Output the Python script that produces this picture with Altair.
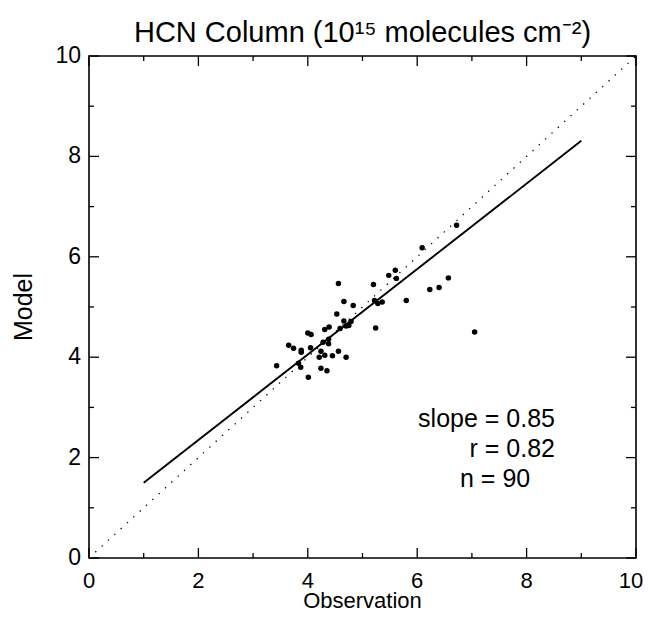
import altair as alt
import pandas as pd

# ---- data ----
obs = [6.09, 5.60, 5.48, 5.62, 6.57, 6.40, 6.23, 4.56, 5.20, 5.80, 5.22, 5.28,
       5.36, 4.66, 4.83, 4.53, 4.66, 4.79, 4.75, 4.70, 4.59, 5.24, 4.39, 4.31,
       4.00, 4.06, 4.38, 4.28, 4.38, 3.65, 3.74, 3.88, 3.88, 4.05, 4.24, 4.56,
       4.21, 4.31, 4.45, 4.70, 3.43, 3.83, 3.87, 4.24, 4.35, 4.01, 6.72, 7.05]
mod = [6.18, 5.73, 5.63, 5.57, 5.58, 5.39, 5.35, 5.47, 5.45, 5.13, 5.13, 5.07,
       5.10, 5.11, 5.03, 4.86, 4.72, 4.71, 4.63, 4.62, 4.57, 4.58, 4.60, 4.55,
       4.48, 4.45, 4.36, 4.30, 4.27, 4.24, 4.18, 4.14, 4.10, 4.19, 4.12, 4.12,
       4.00, 4.04, 4.03, 4.00, 3.83, 3.88, 3.80, 3.78, 3.73, 3.60, 6.63, 4.50]
fit_x = [1.0, 9.0]
fit_y = [1.50, 8.31]
one_x = [0.0, 10.0]
one_y = [0.0, 10.0]
major_ticks = [0, 2, 4, 6, 8, 10]
minor_ticks = [1, 3, 5, 7, 9]
stats = ["slope = 0.85", "r = 0.82", "n = 90"]
title_text = "HCN Column (10\u00b9\u2075 molecules cm\u207b\u00b2)"
x_title = "Observation"
y_title = "Model"

# ---- layout / style ----
W, H = 547, 502
FONT = "Liberation Sans"

xs = alt.Scale(domain=[0, 10], nice=False, zero=False)
ys = alt.Scale(domain=[0, 10], nice=False, zero=False)

pts_df = pd.DataFrame({"obs": obs, "mod": mod})
fit_df = pd.DataFrame({"x": fit_x, "y": fit_y})
one_df = pd.DataFrame({"x": one_x, "y": one_y})
maj_df = pd.DataFrame({"v": major_ticks})
min_df = pd.DataFrame({"v": minor_ticks})
one_row = pd.DataFrame({"k": [0]})

one_line = alt.Chart(one_df).mark_line(color="black", strokeWidth=1.3,
                                       strokeDash=[1.3, 7.3]).encode(
    x=alt.X("x:Q", scale=xs, axis=None), y=alt.Y("y:Q", scale=ys, axis=None))

fit_line = alt.Chart(fit_df).mark_line(color="black", strokeWidth=1.9).encode(
    x=alt.X("x:Q", scale=xs, axis=None), y=alt.Y("y:Q", scale=ys, axis=None))

points = alt.Chart(pts_df).mark_circle(size=30, color="black", opacity=1).encode(
    x=alt.X("obs:Q", scale=xs, axis=None),
    y=alt.Y("mod:Q", scale=ys, axis=None))


def tick_layers(df, length):
    base = alt.Chart(df).mark_rule(color="black", strokeWidth=1.3)
    xf = alt.X("v:Q", scale=xs, axis=None)
    yf = alt.Y("v:Q", scale=ys, axis=None)
    return [
        base.encode(x=xf, y=alt.value(H), y2=alt.value(H - length)),
        base.encode(x=xf, y=alt.value(0), y2=alt.value(length)),
        base.encode(y=yf, x=alt.value(0), x2=alt.value(length)),
        base.encode(y=yf, x=alt.value(W), x2=alt.value(W - length)),
    ]


ticks = tick_layers(maj_df, 10) + tick_layers(min_df, 5)

# tick labels (through the scales)
x_enc = dict(x=alt.X("v:Q", scale=xs, axis=None), y=alt.value(H + 30),
             text=alt.Text("v:Q", format="d"))
x_labels = alt.Chart(maj_df).transform_filter("datum.v < 10").mark_text(
    font=FONT, fontSize=22, color="black", baseline="alphabetic",
    align="center").encode(**x_enc)
x_label_last = alt.Chart(maj_df).transform_filter("datum.v >= 10").mark_text(
    font=FONT, fontSize=22, color="black", baseline="alphabetic",
    align="center", dx=-5).encode(**x_enc)
y_labels = alt.Chart(maj_df).mark_text(font=FONT, fontSize=23, color="black",
                                       baseline="middle", align="right").encode(
    y=alt.Y("v:Q", scale=ys, axis=None), x=alt.value(-8),
    text=alt.Text("v:Q", format="d"))

# axis titles, chart title, statistics
x_ttl = alt.Chart(one_row).mark_text(font=FONT, fontSize=22, color="black",
                                     baseline="alphabetic", align="center").encode(
    x=alt.value(W / 2), y=alt.value(H + 50), text=alt.value(x_title))
y_ttl = alt.Chart(one_row).mark_text(font=FONT, fontSize=25, color="black",
                                     baseline="alphabetic", align="center",
                                     angle=270).encode(
    x=alt.value(-57), y=alt.value(H / 2), text=alt.value(y_title))
main_ttl = alt.Chart(one_row).mark_text(font=FONT, fontSize=29, color="black",
                                        baseline="alphabetic", align="center").encode(
    x=alt.value(W / 2), y=alt.value(-14), text=alt.value(title_text))

t1 = alt.Chart(one_row).mark_text(font=FONT, fontSize=25, color="black",
                                  baseline="alphabetic", align="right").encode(
    x=alt.value(466), y=alt.value(371), text=alt.value(stats[0]))
t2 = alt.Chart(one_row).mark_text(font=FONT, fontSize=25, color="black",
                                  baseline="alphabetic", align="right").encode(
    x=alt.value(466), y=alt.value(401), text=alt.value(stats[1]))
t3 = alt.Chart(one_row).mark_text(font=FONT, fontSize=25, color="black",
                                  baseline="alphabetic", align="left").encode(
    x=alt.value(371), y=alt.value(431), text=alt.value(stats[2]))

chart = alt.layer(one_line, fit_line, points, *ticks, x_labels, x_label_last,
                  y_labels, x_ttl, y_ttl, main_ttl, t1, t2, t3).properties(
    width=W, height=H,
    autosize=alt.AutoSizeParams(type="none"),
    padding={"left": 81, "top": 48, "right": 8, "bottom": 55},
    background="white",
).configure_view(stroke="black", strokeWidth=1.6)

chart.save("out.html", embed_options={"renderer": "svg", "actions": False})
